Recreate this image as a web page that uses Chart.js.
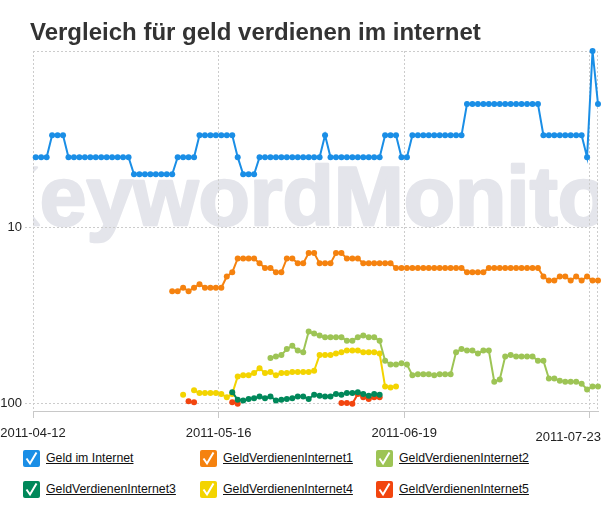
<!DOCTYPE html>
<html>
<head>
<meta charset="utf-8">
<script src="https://cdn.jsdelivr.net/npm/chart.js@4/dist/chart.umd.min.js"></script>
<style>
    body { margin: 0; background: #fff; font-family: "Liberation Sans", Arial, sans-serif; }
    #wrap { position: relative; width: 603px; height: 505px; overflow: hidden; }
    #title { position: absolute; left: 30px; top: 20px; font-size: 24px; line-height: 24px; font-weight: bold; color: #333; white-space: nowrap; }
    #legend { position: absolute; left: 23px; top: 449px; display: grid; grid-template-columns: 177px 176px 176px; row-gap: 13px; }
    .item { display: flex; align-items: center; height: 18px; font-size: 12.3px; color: #111; }
    .item svg { flex: none; }
    .item span { margin-left: 6px; text-decoration: underline; white-space: nowrap; }
</style>
</head>
<body>
<div id="wrap">
    <canvas id="rankChart" width="603" height="445"></canvas>
    <div id="title">Vergleich für geld verdienen im internet</div>
    <div id="legend"></div>
</div>
<script>
// Daily ranking positions, first sample on 2011-04-12
const tickDays = [0, 34, 68, 102];
const tickLabels = ['2011-04-12', '2011-05-16', '2011-06-19', '2011-07-23'];
const rankTicks = [10, 100];

const seriesNames = ['Geld im Internet', 'GeldVerdienenInternet1', 'GeldVerdienenInternet2',
    'GeldVerdienenInternet3', 'GeldVerdienenInternet4', 'GeldVerdienenInternet5'];
const seriesColors = ['#1a8ee6', '#f5820f', '#9dc455', '#00885a', '#f3d400', '#f2450f'];
// day index of the first value in each series
const seriesStart = [0, 25, 43, 36, 27, 28];

const geldImInternet = [4, 4, 4, 3, 3, 3, 4, 4, 4, 4, 4, 4, 4, 4, 4, 4, 4, 4,
    5, 5, 5, 5, 5, 5, 5, 5, 4, 4, 4, 4, 3, 3, 3, 3, 3, 3, 3, 4, 5, 5, 5,
    4, 4, 4, 4, 4, 4, 4, 4, 4, 4, 4, 4, 3, 4, 4, 4, 4, 4, 4, 4, 4, 4, 4,
    3, 3, 3, 4, 4, 3, 3, 3, 3, 3, 3, 3, 3, 3, 3,
    2, 2, 2, 2, 2, 2, 2, 2, 2, 2, 2, 2, 2, 2, 3, 3, 3, 3, 3, 3, 3, 3, 4, 1, 2];
const verdienen1 = [23, 23, 22, 23, 22, 21, 22, 22, 22, 22, 19, 18, 15, 15, 15, 15, 16, 17, 17, 18, 18,
    15, 15, 16, 16, 14, 14, 16, 16, 16, 14, 14, 15, 15, 15, 16, 16, 16, 16, 16, 16,
    17, 17, 17, 17, 17, 17, 17, 17, 17, 17, 17, 17, 17, 18, 18, 18, 18,
    17, 17, 17, 17, 17, 17, 17, 17, 17, 17, 19, 20, 20, 19, 19, 20, 19, 20, 19, 20, 20];
const verdienen2 = [55, 54, 53, 49, 47, 50, 51, 39, 40, 41, 42, 42, 42, 42, 44, 44, 42, 41, 42, 42, 44,
    57, 60, 60, 59, 60, 69, 68, 68, 68, 69, 68, 68, 68, 51, 49, 50, 50, 52, 50, 50,
    75, 73, 54, 53, 54, 54, 54, 54, 57, 57, 72, 72, 74, 75, 75, 75, 77, 83, 80, 80];
const verdienen3 = [86, 95, 96, 94, 93, 91, 93, 91, 96, 95, 94, 93, 91, 91, 94, 89, 90, 91, 91, 88,
    89, 87, 87, 86, 88, 90, 88, 89];
const verdienen4 = [89, null, 84, 87, 87, 87, 87, 88, 92, 88, 70, 69, 69, 67, 63, 67, 66, 69, 67, 67,
    66, 66, 66, 66, 65, 53, 53, 53, 52, 51, 50, 50, 50, 51, 51, 51, 52, 80, 81, 80];
const verdienen5 = [97, 98, null, null, null, null, null, null, 98, 100,
    null, null, null, null, null, null, null, null, null, null, null, null, null, null, null, null, null, null,
    99, 99, 100, 88, 92, 94, 92, 92];

const seriesValues = [geldImInternet, verdienen1, verdienen2, verdienen3, verdienen4, verdienen5];

// samples are plotted in the middle of their day
function toPoints(start, values) {
    return values.map((v, k) => ({ x: start + k + 0.5, y: v }));
}

const watermark = {
    id: 'watermark',
    beforeDraw(chart) {
        const { ctx, chartArea } = chart;
        ctx.save();
        ctx.beginPath();
        ctx.rect(chartArea.left, chartArea.top, chartArea.right - chartArea.left, chartArea.bottom - chartArea.top);
        ctx.clip();
        ctx.font = 'bold 84px "Liberation Sans", Arial, sans-serif';
        ctx.fillStyle = '#e4e5eb';
        ctx.strokeStyle = '#e4e5eb';
        ctx.lineWidth = 2.5;
        ctx.lineJoin = 'round';
        ctx.textBaseline = 'alphabetic';
        ctx.fillText('KeywordMonitor', chartArea.left - 54, 225);
        ctx.strokeText('KeywordMonitor', chartArea.left - 54, 225);
        ctx.restore();
    }
};

// dotted top and right frame
const frame = {
    id: 'frame',
    beforeDatasetsDraw(chart) {
        const { ctx, chartArea } = chart;
        ctx.save();
        ctx.strokeStyle = '#cccccc';
        ctx.lineWidth = 1;
        ctx.setLineDash([2, 2]);
        ctx.beginPath();
        ctx.moveTo(chartArea.left, chartArea.top + 0.5);
        ctx.lineTo(chartArea.right, chartArea.top + 0.5);
        ctx.moveTo(chartArea.right - 0.5, chartArea.top);
        ctx.lineTo(chartArea.right - 0.5, chartArea.bottom);
        ctx.stroke();
        ctx.restore();
    }
};

// date labels, pushed inside the canvas when they would overflow
const dateLabels = {
    id: 'dateLabels',
    afterDraw(chart) {
        const { ctx, chartArea, width } = chart;
        const xScale = chart.scales.x;
        ctx.save();
        ctx.font = '13px "Liberation Sans", Arial, sans-serif';
        ctx.fillStyle = '#222';
        ctx.textAlign = 'center';
        ctx.textBaseline = 'middle';
        tickDays.forEach((d, k) => {
            const px = xScale.getPixelForValue(d);
            const w = ctx.measureText(tickLabels[k]).width;
            const cx = Math.min(px, width - w / 2 - 2);
            const drop = cx < px ? 4 : 0;
            ctx.fillText(tickLabels[k], cx, chartArea.bottom + 22 + drop);
        });
        ctx.restore();
    }
};

const datasets = seriesValues.map((values, i) => ({
    label: seriesNames[i],
    data: toPoints(seriesStart[i], values),
    borderColor: seriesColors[i],
    backgroundColor: seriesColors[i],
    pointBackgroundColor: seriesColors[i],
    borderWidth: 2,
    pointRadius: 3,
    pointBorderWidth: 0,
    tension: 0,
    spanGaps: false
}));

new Chart(document.getElementById('rankChart'), {
    type: 'line',
    data: { datasets: datasets },
    options: {
        responsive: false,
        animation: false,
        clip: false,
        layout: { autoPadding: false, padding: { top: 51, right: 5, left: 0, bottom: 0 } },
        plugins: {
            legend: { display: false },
            title: { display: false },
            tooltip: { enabled: false }
        },
        scales: {
            x: {
                type: 'linear',
                min: 0,
                max: 103.5,
                afterBuildTicks: scale => { scale.ticks = tickDays.map(v => ({ value: v })); },
                afterFit: scale => { scale.height = 34; },
                ticks: { display: false },
                grid: { color: '#cccccc', drawTicks: true, tickLength: 7, tickBorderDash: [], tickColor: '#c8c8c8' },
                border: { display: true, color: '#c8c8c8', dash: [2, 2] }
            },
            y: {
                type: 'logarithmic',
                reverse: true,
                min: 1,
                max: 110,
                afterBuildTicks: scale => { scale.ticks = rankTicks.map(v => ({ value: v })); },
                afterFit: scale => { scale.width = 33; },
                ticks: {
                    color: '#222',
                    padding: 3,
                    font: { size: 13, family: '"Liberation Sans", Arial, sans-serif' },
                    callback: value => String(value)
                },
                grid: { color: '#cccccc', drawTicks: true, tickLength: 8, tickBorderDash: [2, 2] },
                border: { display: false, dash: [2, 2] }
            }
        }
    },
    plugins: [watermark, frame, dateLabels]
});

// legend with checked boxes
const legendBox = document.getElementById('legend');
seriesNames.forEach((name, i) => {
    const item = document.createElement('div');
    item.className = 'item';
    item.innerHTML = `
        <svg width="17" height="17" viewBox="0 0 17 17">
            <rect x="0" y="0" width="17" height="17" rx="2" fill="${seriesColors[i]}"></rect>
            <path d="M3.5 8.5 L7 13.5 L13.5 2.5" stroke="#fff" stroke-width="2" fill="none"></path>
        </svg>
        <span>${name}</span>`;
    legendBox.appendChild(item);
});
</script>
</body>
</html>
